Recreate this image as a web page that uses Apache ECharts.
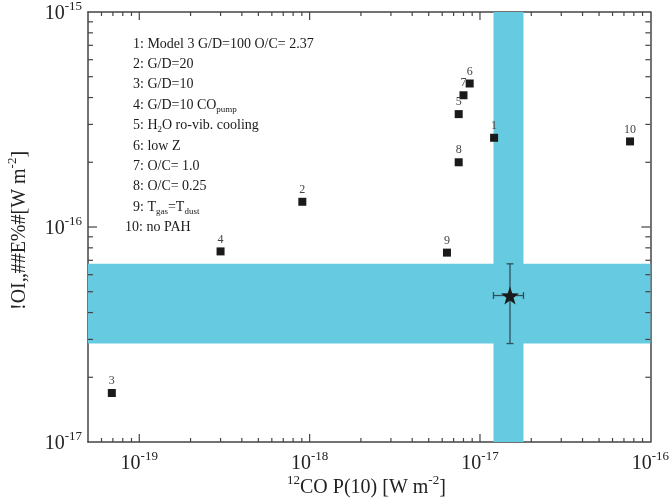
<!DOCTYPE html>
<html><head><meta charset="utf-8">
<script src="https://cdn.jsdelivr.net/npm/echarts@6/dist/echarts.min.js"></script>
<style>html,body{margin:0;padding:0;background:#fff}#c{width:672px;height:501px}</style>
</head><body><div id="c"></div>
<script>
// ---- data ----
var modelIds = ['1','2','3','4','5','6','7','8','9','10'];
var modelX = [1.21e-17, 9.06e-19, 6.9e-20, 3.0e-19, 7.5e-18, 8.7e-18, 8.0e-18, 7.5e-18, 6.4e-18, 7.6e-17];
var modelY = [2.6e-16, 1.31e-16, 1.69e-17, 7.7e-17, 3.35e-16, 4.65e-16, 4.1e-16, 2.0e-16, 7.6e-17, 2.5e-16];
var obsX = 1.5e-17, obsXlo = 1.2e-17, obsXhi = 1.8e-17;
var obsY = 4.8e-17, obsYlo = 2.87e-17, obsYhi = 6.74e-17;
var xMin = 5e-20, xMax = 1e-16, yMin = 1e-17, yMax = 1e-15;
var xMajor = [1e-19, 1e-18, 1e-17];
var yMajor = [1e-16];
var xMinor = [6e-20,7e-20,8e-20,9e-20, 2e-19,3e-19,4e-19,5e-19,6e-19,7e-19,8e-19,9e-19,
              2e-18,3e-18,4e-18,5e-18,6e-18,7e-18,8e-18,9e-18, 2e-17,3e-17,4e-17,5e-17,6e-17,7e-17,8e-17,9e-17];
var yMinor = [2e-17,3e-17,4e-17,5e-17,6e-17,7e-17,8e-17,9e-17, 2e-16,3e-16,4e-16,5e-16,6e-16,7e-16,8e-16,9e-16];
var legendLines = [
  '1: Model 3 G/D=100 O/C= 2.37',
  '2: G/D=20',
  '3: G/D=10',
  '4: G/D=10 CO{sub|pump}',
  '5: H{sub|2}O ro-vib. cooling',
  '6: low Z',
  '7: O/C= 1.0',
  '8: O/C= 0.25',
  '9: T{sub|gas}=T{sub|dust}',
  '10: no PAH'
];
var xTitle = '{sup|12}{b|CO P(10) [W m}{sup|-2}{b|]}';
var yTitle = '{b|!OI\u201E##E%#[W m}{sup|-2}{b|]}';

var FONT = 'Liberation Serif';
var BAND = '#66cbe0';
var AX = '#444';

function expLabel(v){
  var e = Math.round(Math.log10(v));
  if (Math.abs(Math.log10(v) - e) > 1e-6) return '';
  return '{b|10}{s|' + e + '}';
}
var tickRich = {
  b:{fontFamily:FONT,fontSize:20,color:'#222',lineHeight:24,verticalAlign:'bottom'},
  s:{fontFamily:FONT,fontSize:13,color:'#222',lineHeight:24,verticalAlign:'top',padding:[0,0,10,0]}
};

var chart = echarts.init(document.getElementById('c'));
var gridL = 88, gridR = 20, gridT = 10, gridB = 59;

function axisCommon(){
  return {type:'log', logBase:10,
    axisLine:{show:true,lineStyle:{color:AX,width:1.5}},
    axisTick:{show:false}, splitLine:{show:false}, minorTick:{show:false}, minorSplitLine:{show:false}};
}
var xBottom = Object.assign(axisCommon(), {position:'bottom', min:xMin, max:xMax,
  axisLabel:{show:true, formatter:expLabel, rich:tickRich, margin:8, showMinLabel:true}});
var xTop = Object.assign(axisCommon(), {position:'top', min:xMin, max:xMax, axisLabel:{show:false}});
var yLeft = Object.assign(axisCommon(), {position:'left', min:yMin, max:yMax,
  axisLabel:{show:true, formatter:expLabel, rich:tickRich, margin:6}});
var yRight = Object.assign(axisCommon(), {position:'right', min:yMin, max:yMax, axisLabel:{show:false}});

function tickSeries(vals, isX, len){
  return {type:'custom', xAxisIndex:0, yAxisIndex:0, clip:false, silent:true, z:5,
    data: vals.map(function(v){return [v];}),
    renderItem:function(params, api){
      var cs = params.coordSys;
      var v = api.value(0);
      var ch = [];
      var st = {stroke:AX, lineWidth:1.2};
      if (isX){
        var px = api.coord([v, yMin])[0];
        ch.push({type:'line',shape:{x1:px,y1:cs.y+cs.height,x2:px,y2:cs.y+cs.height-len},style:st});
        ch.push({type:'line',shape:{x1:px,y1:cs.y,x2:px,y2:cs.y+len},style:st});
      } else {
        var py = api.coord([xMin, v])[1];
        ch.push({type:'line',shape:{x1:cs.x,y1:py,x2:cs.x+len,y2:py},style:st});
        ch.push({type:'line',shape:{x1:cs.x+cs.width,y1:py,x2:cs.x+cs.width-len,y2:py},style:st});
      }
      return {type:'group',children:ch};
    }};
}

var graphics = [];
legendLines.forEach(function(t, i){
  graphics.push({type:'text', left: (i===9 ? 125 : 133), top: 37 + i*20.4,
    style:{text:t, fontFamily:FONT, fontSize:14, fill:'#1a1a1a',
      rich:{sub:{fontFamily:FONT,fontSize:9,fill:'#1a1a1a',verticalAlign:'bottom',padding:[8,0,0,0]}}}});
});
graphics.push({type:'text', x:287, y:474, style:{text:xTitle, fontFamily:FONT, fontSize:20, fill:'#222',
  rich:{b:{fontFamily:FONT,fontSize:20,fill:'#222',lineHeight:24,verticalAlign:'bottom'},
        sup:{fontFamily:FONT,fontSize:13,fill:'#222',lineHeight:24,verticalAlign:'top',padding:[0,0,10,0]}}}});
graphics.push({type:'text', x:6, y:310, rotation:Math.PI/2,
  style:{text:yTitle, fontFamily:FONT, fontSize:20, fill:'#222',
  rich:{b:{fontFamily:FONT,fontSize:20,fill:'#222',lineHeight:24,verticalAlign:'bottom'},
        sup:{fontFamily:FONT,fontSize:13,fill:'#222',lineHeight:24,verticalAlign:'top',padding:[0,0,10,0]}}}});

chart.setOption({
  animation:false,
  grid:{left:gridL,right:gridR,top:gridT,bottom:gridB},
  xAxis:[xBottom, xTop],
  yAxis:[yLeft, yRight],
  graphic:graphics,
  series:[
    {type:'scatter', xAxisIndex:0, yAxisIndex:0, data:[], z:1,
      markArea:{silent:true, itemStyle:{color:BAND, opacity:1},
        data:[
          [{xAxis:obsXlo, yAxis:yMin},{xAxis:obsXhi, yAxis:yMax}],
          [{xAxis:xMin, yAxis:obsYlo},{xAxis:xMax, yAxis:obsYhi}]
        ]}},
    tickSeries(xMinor, true, 4),
    tickSeries(xMajor, true, 8),
    tickSeries(yMinor, false, 5),
    tickSeries(yMajor, false, 9),
    {type:'scatter', xAxisIndex:0, yAxisIndex:0, symbol:'rect', symbolSize:8, z:10,
      itemStyle:{color:'#1a1a1a', opacity:1},
      data: modelIds.map(function(id,i){return {name:id, value:[modelX[i], modelY[i]]};}),
      label:{show:true, position:'top', distance:2, formatter:function(p){return p.name;},
        fontFamily:FONT, fontSize:12, color:'#444'}},
    {type:'custom', xAxisIndex:0, yAxisIndex:0, z:11,
      data:[[obsX, obsY, obsXlo, obsXhi, obsYlo, obsYhi]],
      renderItem:function(params, api){
        var c = api.coord([api.value(0), api.value(1)]);
        var l = api.coord([api.value(2), api.value(1)]);
        var r = api.coord([api.value(3), api.value(1)]);
        var b = api.coord([api.value(0), api.value(4)]);
        var t = api.coord([api.value(0), api.value(5)]);
        var st = {stroke:'#2f4f5c', lineWidth:1.3};
        var cap = 3.5;
        return {type:'group', children:[
          {type:'line',shape:{x1:l[0],y1:l[1],x2:r[0],y2:r[1]},style:st},
          {type:'line',shape:{x1:l[0],y1:l[1]-cap,x2:l[0],y2:l[1]+cap},style:st},
          {type:'line',shape:{x1:r[0],y1:r[1]-cap,x2:r[0],y2:r[1]+cap},style:st},
          {type:'line',shape:{x1:t[0],y1:t[1],x2:b[0],y2:b[1]},style:st},
          {type:'line',shape:{x1:t[0]-cap,y1:t[1],x2:t[0]+cap,y2:t[1]},style:st},
          {type:'line',shape:{x1:b[0]-cap,y1:b[1],x2:b[0]+cap,y2:b[1]},style:st}
        ]};
      }},
    {type:'scatter', xAxisIndex:0, yAxisIndex:0, symbol:'path://M0,-10 L2.35,-3.24 L9.51,-3.09 L3.8,1.24 L5.88,8.09 L0,4 L-5.88,8.09 L-3.8,1.24 L-9.51,-3.09 L-2.35,-3.24 Z',
      symbolSize:18, z:12, itemStyle:{color:'#1a1a1a', opacity:1}, data:[[obsX, obsY]]}
  ]
});
</script>
</body></html>
